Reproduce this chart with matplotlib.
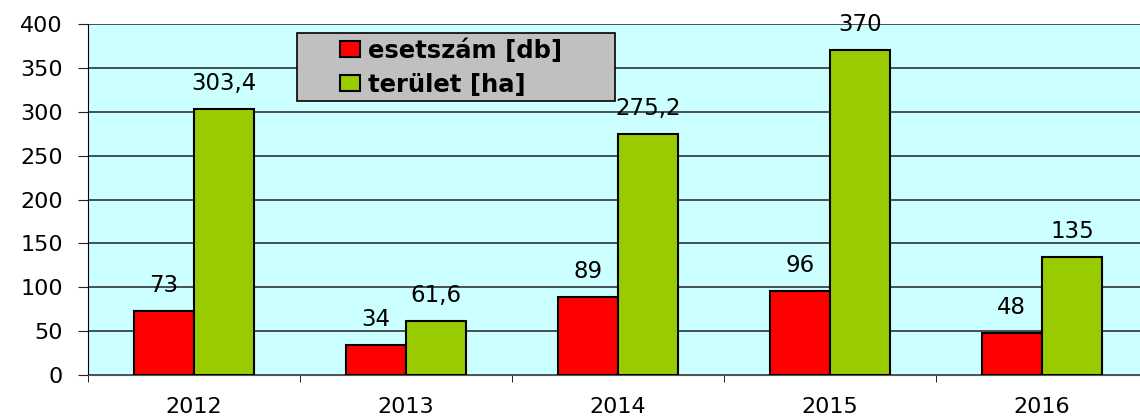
import numpy as np
import matplotlib.pyplot as plt
from matplotlib.patches import Rectangle

plt.rcParams.update({
    "font.family": ["DejaVu Sans"],
    "font.size": 16,
})

# data
years = ["2012", "2013", "2014", "2015", "2016"]
esetszam = [73, 34, 89, 96, 48]
terulet = [303.4, 61.6, 275.2, 370, 135]
series_names = ["esetszám [db]", "terület [ha]"]

BG = "#CCFFFF"
RED = "#FF0000"
GREEN = "#99CC00"
W, H = 1140, 416

fig = plt.figure(figsize=(W / 100, H / 100), dpi=100)
ax = fig.add_axes([88 / W, 41 / H, 1060 / W, 351 / H])
ax.set_facecolor(BG)

x = np.arange(len(years))
w = 0.285
b1 = ax.bar(x - w / 2, esetszam, w, color=RED, edgecolor="black", lw=1.5,
            label=series_names[0], zorder=3)
b2 = ax.bar(x + w / 2, terulet, w, color=GREEN, edgecolor="black", lw=1.5,
            label=series_names[1], zorder=3)


def fmt(v):
    return f"{v:g}".replace(".", ",")


for bars, vals in ((b1, esetszam), (b2, terulet)):
    for r, v in zip(bars, vals):
        ax.annotate(fmt(v), (r.get_x() + r.get_width() / 2, v),
                    xytext=(0, 10), textcoords="offset points",
                    ha="center", va="bottom", fontsize=16.5, zorder=4)

ax.set_xlim(-0.5, len(years) - 0.5)
ax.set_ylim(0, 400)
ax.set_yticks(np.arange(0, 401, 50))
ax.yaxis.grid(True, color="#222222", lw=1.1, zorder=0)
ax.set_axisbelow(True)

ax.set_xticks(x)
ax.set_xticklabels(years)
ax.set_xticks(np.arange(-0.5, len(years), 1), minor=True)
ax.tick_params(axis="x", which="major", length=0, pad=15.5)
ax.tick_params(axis="x", which="minor", length=5, direction="out", color="black")
ax.tick_params(axis="y", length=7.2, pad=11, direction="out", color="#222222")

for s in ("top", "right"):
    ax.spines[s].set_visible(False)
ax.spines["left"].set_color("black")
ax.spines["bottom"].set_color("#555555")

# legend: grey box of fixed size, entries drawn on top
frame = Rectangle((297 / W, 1 - 101 / H), 318 / W, 68 / H,
                  transform=fig.transFigure, facecolor="#C0C0C0",
                  edgecolor="black", lw=1.2, zorder=5)
ax.add_patch(frame)
frame.set_clip_on(False)

leg = ax.legend(loc="upper left", bbox_to_anchor=(340 / W, 1 - 38 / H),
                bbox_transform=fig.transFigure, frameon=False, borderpad=0,
                borderaxespad=0, handlelength=0.83, handleheight=0.62,
                handletextpad=0.33, labelspacing=0.42,
                prop={"weight": "bold", "size": 17.5})
leg.set_zorder(6)

fig.savefig("out.png", dpi=100)
